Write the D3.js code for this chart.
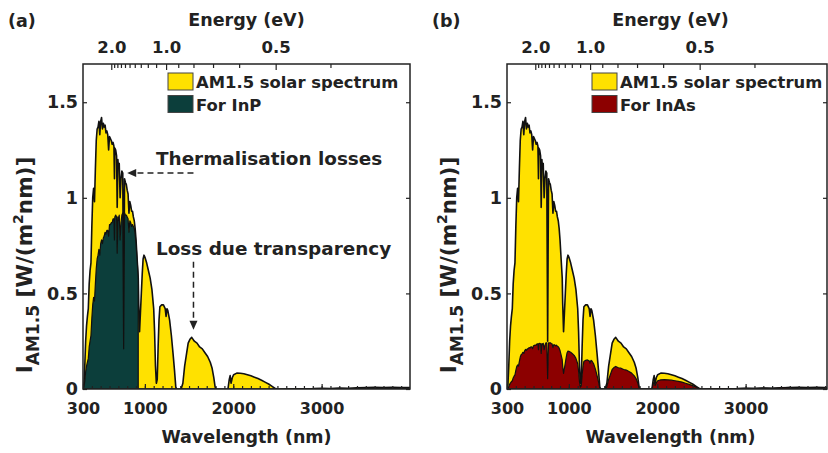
<!DOCTYPE html>
<html lang="en">
<head>
<meta charset="utf-8">
<title>AM1.5 spectrum, InP and InAs</title>
<script src="https://d3js.org/d3.v7.min.js"></script>
<style>
  body { margin: 0; background: #fff; }
  text { font-family: "DejaVu Sans", sans-serif; font-weight: bold; fill: #222; }
</style>
</head>
<body>
<script>
// wavelength grid (nm) and AM1.5 spectral irradiance
const wavelength = [300,310,320,330,340,350,360,370,380,390,400,410,420,430,440,450,460,470,480,490,
  500,510,520,530,540,550,560,570,580,590,600,610,620,630,640,650,656,660,670,680,687,695,700,710,720,
  730,740,750,760,765,770,780,790,800,810,820,830,840,850,860,870,880,890,900,910,920,925,930,940,950,
  960,970,980,990,1000,1020,1040,1060,1080,1100,1110,1120,1130,1140,1150,1160,1170,1190,1210,1230,1240,
  1250,1260,1280,1300,1320,1335,1350,1360,1410,1430,1450,1470,1490,1510,1530,1560,1590,1620,1650,1680,
  1710,1740,1760,1780,1795,1810,1940,1955,1965,1975,1990,2005,2040,2080,2120,2160,2200,2240,2280,2320,
  2360,2400,2440,2470,2500,2700,2900,3000,3100,3200,3300,3400,3500,3600,3700,3800,3900,4000];

const am15 = [0,0.02,0.12,0.25,0.33,0.38,0.42,0.55,0.62,0.66,0.85,1.0,1.05,0.98,1.15,1.30,1.36,1.37,1.40,1.33,
  1.40,1.42,1.36,1.39,1.37,1.38,1.34,1.35,1.33,1.25,1.32,1.31,1.30,1.28,1.29,1.27,1.10,1.26,1.25,1.22,0.95,1.20,1.16,1.18,1.00,
  1.10,1.14,1.13,0.25,0.70,1.10,1.08,1.07,1.04,1.02,0.92,0.98,0.96,0.93,0.93,0.90,0.88,0.84,0.78,0.70,0.62,0.58,0.45,0.30,0.40,
  0.50,0.60,0.68,0.70,0.69,0.66,0.62,0.58,0.52,0.42,0.30,0.12,0.03,0.05,0.22,0.36,0.43,0.44,0.44,0.42,0.38,
  0.42,0.41,0.36,0.28,0.18,0.10,0.01,0,0,0.03,0.12,0.18,0.24,0.26,0.27,0.25,0.24,0.22,0.21,0.19,
  0.17,0.14,0.11,0.06,0.01,0,0,0.05,0.07,0.03,0.06,0.075,0.083,0.082,0.080,0.075,0.069,0.062,0.055,0.046,
  0.036,0.026,0.014,0.004,0,0.001,0.002,0.004,0.003,0.005,0.004,0.006,0.008,0.009,0.008,0.009,0.008,0.007];

// part usable by InP (up to ~925 nm)
const inp = [0,0.01,0.04,0.09,0.12,0.14,0.16,0.22,0.25,0.28,0.37,0.44,0.48,0.46,0.55,0.63,0.68,0.70,0.73,0.70,
  0.76,0.78,0.76,0.79,0.80,0.82,0.81,0.83,0.83,0.80,0.86,0.86,0.87,0.87,0.89,0.89,0.78,0.90,0.91,0.90,0.71,0.90,0.88,0.91,0.78,
  0.87,0.91,0.92,0.21,0.58,0.92,0.91,0.91,0.90,0.89,0.82,0.88,0.87,0.85,0.86,0.85,0.84,0.81,0.76,0.69,0.62,0.57];

// part usable by InAs (up to ~3500 nm)
const inas = [0,0.002,0.011,0.024,0.032,0.038,0.043,0.058,0.067,0.074,0.097,0.117,0.126,0.120,0.145,0.167,0.179,0.184,0.192,0.186,
  0.200,0.207,0.202,0.210,0.211,0.217,0.214,0.220,0.220,0.211,0.226,0.228,0.230,0.230,0.236,0.236,0.206,0.238,0.239,0.237,0.186,0.238,0.232,0.239,0.206,
  0.229,0.241,0.242,0.054,0.153,0.242,0.241,0.242,0.238,0.236,0.216,0.232,0.230,0.226,0.229,0.224,0.221,0.214,0.201,0.182,0.163,0.152,0.120,0.081,0.109,
  0.137,0.166,0.190,0.198,0.197,0.192,0.184,0.176,0.160,0.132,0.095,0.038,0.010,0.016,0.072,0.119,0.144,0.150,0.152,0.147,0.135,
  0.150,0.147,0.132,0.104,0.068,0.038,0.004,0,0,0.012,0.050,0.076,0.102,0.112,0.118,0.111,0.109,0.102,0.099,0.091,
  0.083,0.069,0.055,0.031,0.005,0,0,0.028,0.039,0.017,0.034,0.043,0.048,0.049,0.048,0.046,0.043,0.040,0.036,0.030,
  0.024,0.018,0.010,0.003,0,0.001,0.002,0.003,0.003,0.005,0.004,0.006,0.008];

const xTickValues = [300, 1000, 2000, 3000];
const yTickValues = [0, 0.5, 1, 1.5];
const energyMajor = [2.0, 1.0, 0.5];
const energyLabels = ["2.0", "1.0", "0.5"];
const energyMinor = [1.9,1.8,1.7,1.6,1.5,1.4,1.3,1.2,1.1,0.9,0.8,0.7,0.6,0.4];

const w = 828, h = 453;
const plotTop = 64, plotBottom = 389, plotW = 327;
const yellow = "#ffe100";

const svg = d3.select("body").append("svg")
  .attr("width", w).attr("height", h);

function drawPanel(opt) {
  const left = opt.left;
  const right = Math.min(left + plotW, 827);
  const x = d3.scaleLinear().domain([300, 4000]).range([left, left + plotW]);
  const y = d3.scaleLinear().domain([0, 1.7]).range([plotBottom, plotTop]);
  const g = svg.append("g");

  g.append("clipPath").attr("id", "clip" + opt.id)
    .append("rect").attr("x", left).attr("y", plotTop)
    .attr("width", right - left).attr("height", plotBottom - plotTop);

  const area = d3.area()
    .x(d => x(d[0]))
    .y0(y(0))
    .y1(d => y(d[1]));

  const plot = g.append("g").attr("clip-path", `url(#clip${opt.id})`);
  plot.append("path")
    .datum(wavelength.map((wl, i) => [wl, am15[i]]))
    .attr("d", area)
    .attr("fill", yellow)
    .attr("stroke", "#111")
    .attr("stroke-width", 1.6)
    .attr("stroke-linejoin", "round");
  plot.append("path")
    .datum(opt.values.map((v, i) => [wavelength[i], v]))
    .attr("d", area)
    .attr("fill", opt.color)
    .attr("stroke", "#111")
    .attr("stroke-width", 1.2)
    .attr("stroke-linejoin", "round");

  // bottom axis
  g.append("g").attr("transform", `translate(0,${plotBottom})`)
    .call(d3.axisBottom(x).tickValues(d3.range(400, 4000, 100)).tickSize(-3).tickFormat(""))
    .call(a => a.select(".domain").remove());
  g.append("g").attr("transform", `translate(0,${plotBottom})`)
    .call(d3.axisBottom(x).tickValues(xTickValues).tickFormat(d3.format("d")).tickSize(-5).tickPadding(14))
    .call(a => a.select(".domain").remove())
    .call(a => a.selectAll("text").attr("font-size", 16).attr("fill", "#222").style("font-family", null));

  // top axis: energy
  g.append("g").attr("transform", `translate(0,${plotTop})`)
    .call(d3.axisTop(x).tickValues(energyMinor.map(e => 1240 / e)).tickSize(-4).tickFormat(""))
    .call(a => a.select(".domain").remove());
  g.append("g").attr("transform", `translate(0,${plotTop})`)
    .call(d3.axisTop(x).tickValues(energyMajor.map(e => 1240 / e))
      .tickFormat((d, i) => energyLabels[i]).tickSize(-6).tickPadding(11))
    .call(a => a.select(".domain").remove())
    .call(a => a.selectAll("text").attr("font-size", 16.5).attr("fill", "#222").style("font-family", null));

  // y axes
  g.append("g").attr("transform", `translate(${left},0)`)
    .call(d3.axisLeft(y).tickValues(yTickValues).tickFormat(d3.format("")).tickSize(-4).tickPadding(5))
    .call(a => a.select(".domain").remove())
    .call(a => a.selectAll("text").attr("font-size", 17.5).attr("fill", "#222").style("font-family", null));
  g.append("g").attr("transform", `translate(${right},0)`)
    .call(d3.axisRight(y).tickValues(yTickValues).tickSize(-4).tickFormat(""))
    .call(a => a.select(".domain").remove());

  g.selectAll(".tick line").attr("stroke", "#222").attr("stroke-width", 1.2);

  // frame
  g.append("rect")
    .attr("x", left).attr("y", plotTop)
    .attr("width", right - left).attr("height", plotBottom - plotTop)
    .attr("fill", "none").attr("stroke", "#222").attr("stroke-width", 1.5);

  const cx = left + plotW / 2;
  g.append("text").attr("x", cx).attr("y", 26).attr("text-anchor", "middle")
    .attr("font-size", 17.5).text("Energy (eV)");
  g.append("text").attr("x", cx).attr("y", 443).attr("text-anchor", "middle")
    .attr("font-size", 17.5).text("Wavelength (nm)");
  g.append("text").attr("x", left - 75).attr("y", 27)
    .attr("font-size", 17.5).text(opt.tag);

  // y label
  const yl = g.append("text")
    .attr("transform", `translate(${left - 51},265) rotate(-90)`)
    .attr("text-anchor", "middle").attr("font-size", 21.5);
  yl.append("tspan").text("I");
  yl.append("tspan").attr("font-size", 17).attr("dy", 7).text("AM1.5");
  yl.append("tspan").attr("dy", -7).text(" [W/(m");
  yl.append("tspan").attr("font-size", 14).attr("dy", -9).text("2");
  yl.append("tspan").attr("dy", 9).text("nm)]");

  // legend
  const lg = g.append("g").attr("transform", `translate(${left + 85},73)`);
  const items = [{c: yellow, t: "AM1.5 solar spectrum"}, {c: opt.color, t: opt.label}];
  items.forEach((it, i) => {
    lg.append("rect").attr("x", 0).attr("y", i * 22.5)
      .attr("width", 25).attr("height", 17)
      .attr("fill", it.c).attr("stroke", "#444").attr("stroke-width", 1);
    lg.append("text").attr("x", 28).attr("y", i * 22.5 + 15)
      .attr("font-size", 16.4).text(it.t);
  });

  return {x, y, g};
}

const a = drawPanel({id: "a", left: 83, tag: "(a)", values: inp, color: "#0c3e3b", label: "For InP"});
drawPanel({id: "b", left: 507, tag: "(b)", values: inas, color: "#8c0000", label: "For InAs"});

// annotations on panel (a)
const ax = a.x, ay = a.y, ag = a.g;
ag.append("text").attr("x", 156).attr("y", 165).attr("font-size", 18.4).text("Thermalisation losses");
ag.append("text").attr("x", 156).attr("y", 255).attr("font-size", 18.4).text("Loss due transparency");

function arrow(x1, y1, x2, y2) {
  const ang = Math.atan2(y2 - y1, x2 - x1);
  const len = 9, half = 4;
  const bx = x2 - len * Math.cos(ang), by = y2 - len * Math.sin(ang);
  ag.append("line").attr("x1", x1).attr("y1", y1).attr("x2", bx).attr("y2", by)
    .attr("stroke", "#222").attr("stroke-width", 1.5).attr("stroke-dasharray", "6,4");
  ag.append("path")
    .attr("d", `M${x2},${y2}L${bx - half * Math.sin(ang)},${by + half * Math.cos(ang)}L${bx + half * Math.sin(ang)},${by - half * Math.cos(ang)}Z`)
    .attr("fill", "#222");
}
arrow(ax(1550), ay(1.13), ax(800), ay(1.13));
arrow(ax(1550), ay(0.665), ax(1550), ay(0.31));
</script>
</body>
</html>
